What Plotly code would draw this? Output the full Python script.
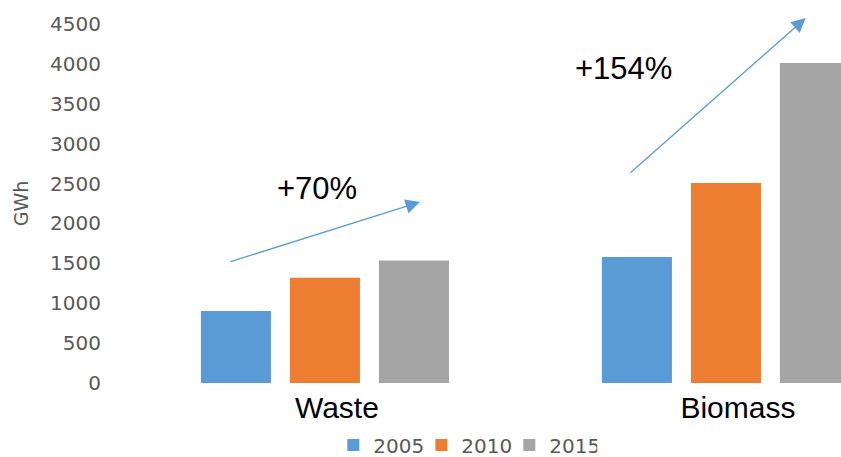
import plotly.graph_objects as go

categories = ["Waste", "Biomass"]
years = ["2005", "2010", "2015"]
values_2005 = [902, 1580]
values_2010 = [1320, 2507]
values_2015 = [1535, 4010]
colors = ["#5B9BD5", "#ED7D31", "#A5A5A5"]

y_ticks = list(range(0, 4501, 500))

fig = go.Figure()
for year, vals, col in zip(years, [values_2005, values_2010, values_2015], colors):
    fig.add_trace(go.Bar(
        x=categories,
        y=vals,
        name=year,
        marker_color=col,
        marker_line_width=0,
    ))

arrow_color = "#5B9BD5"
# growth arrows (tail -> head) and labels
fig.add_annotation(x=0.237, y=2268, ax=-0.239, ay=1516, xref="x", yref="y",
                   axref="x", ayref="y", text="", showarrow=True,
                   arrowhead=2, arrowsize=2.2, arrowwidth=1.3, arrowcolor=arrow_color)
fig.add_annotation(x=1.199, y=4574, ax=0.758, ay=2619, xref="x", yref="y",
                   axref="x", ayref="y", text="", showarrow=True,
                   arrowhead=2, arrowsize=2.2, arrowwidth=1.3, arrowcolor=arrow_color)
fig.add_annotation(x=-0.02, y=2440, xref="x", yref="y", text="+70%", showarrow=False,
                   font=dict(family="Liberation Sans, Arial", size=31, color="#000000"))
fig.add_annotation(x=0.744, y=3945, xref="x", yref="y", text="+154%", showarrow=False,
                   font=dict(family="Liberation Sans, Arial", size=31, color="#000000"))

fig.update_layout(
    width=841,
    height=457,
    barmode="group",
    bargap=0.334,
    bargroupgap=0.213,
    plot_bgcolor="white",
    paper_bgcolor="white",
    margin=dict(l=108, r=0, t=24, b=74, autoexpand=False),
    font=dict(family="DejaVu Sans", color="#595959"),
    legend=dict(
        orientation="h",
        x=0.4875, xanchor="center",
        y=-0.173, yanchor="middle",
        entrywidth=43,
        entrywidthmode="pixels",
        font=dict(size=20, color="#595959"),
    ),
    xaxis=dict(
        range=[-0.541, 1.287],
        showgrid=False,
        showline=False,
        zeroline=False,
        ticks="",
        ticklabelshift=12,
        ticklabelstandoff=4,
        tickfont=dict(family="Liberation Sans, Arial", size=30, color="#000000"),
    ),
    yaxis=dict(
        range=[0, 4500],
        tickvals=y_ticks,
        showgrid=False,
        showline=False,
        zeroline=False,
        ticks="",
        ticklabelstandoff=6,
        tickfont=dict(size=20, color="#595959"),
        title=dict(text="GWh", font=dict(size=19, color="#595959"), standoff=16),
    ),
)

fig.write_html("out.html", config={"displayModeBar": False},
               post_script="document.body.style.margin='0';")
